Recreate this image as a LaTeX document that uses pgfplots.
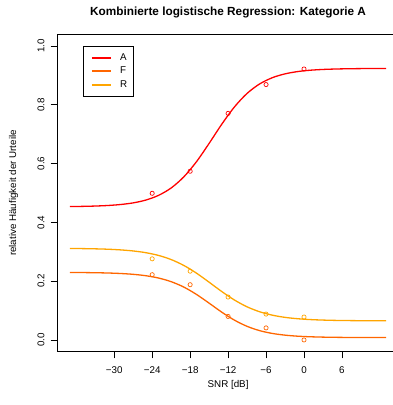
\documentclass[border=0pt]{standalone}
\usepackage{fontspec}
\setmainfont{Liberation Sans}
\usepackage{pgfplots}
\pgfplotsset{compat=1.18}
\definecolor{cA}{RGB}{255,0,0}
\definecolor{cF}{RGB}{255,102,0}
\definecolor{cR}{RGB}{255,165,0}
\newcommand{\basefont}{\fontsize{9.8}{11.8}\selectfont}
\begin{document}
\begin{tikzpicture}
\begin{axis}[
  at={(0,0)}, anchor=south west,
  scale only axis, width=341.6pt, height=317.4pt,
  xmin=-39, xmax=15, ymin=-0.04, ymax=1.04,
  xtick={-30,-24,-18,-12,-6,0,6},
  xticklabels={−30,−24,−18,−12,−6,0,6},
  ytick={0,0.2,0.4,0.6,0.8,1.0},
  yticklabels={0.0,0.2,0.4,0.6,0.8,1.0},
  xtick pos=left, ytick pos=left,
  tick align=outside, major tick length=6.7pt,
  tick style={black, line width=0.7pt},
  axis line style={black, line width=0.8pt},
  ticklabel style={font=\basefont},
  yticklabel style={rotate=90, anchor=south, inner sep=0pt, yshift=6pt},
  xticklabel style={inner sep=0pt, yshift=-8pt},
  xlabel={SNR [dB]}, ylabel={relative Häufigkeit der Urteile},
  label style={font=\basefont},
  x label style={at={(axis description cs:0.5,0)}, anchor=center, yshift=-33.6pt},
  y label style={at={(axis description cs:0,0.5)}, anchor=center, yshift=43.8pt},
  title={Kombinierte logistische Regression: Kategorie A},
  title style={font=\fontsize{11.8}{14}\selectfont\bfseries, at={(axis description cs:0.5,1)}, anchor=center, yshift=15.9pt},
  legend style={at={(axis description cs:0.0744,0.964)}, anchor=north west,
    draw=black, inner xsep=5.5pt, inner ysep=7.5pt,
    row sep=5.5pt, column sep=8.3pt, font=\basefont, nodes={inner sep=0pt}},
  legend cell align=left,
  legend image code/.code={\path (0pt,0pt); \draw[#1, line width=2pt] (2.8pt,0pt) -- (21.8pt,0pt);},
]
\addplot[color=cA, line width=1.3pt, smooth] coordinates {
(-37,0.4538)(-35,0.4545)(-33,0.4556)(-31,0.4575)(-29,0.4608)(-27,0.4664)(-25,0.4760)
(-23,0.4919)(-21,0.5171)(-19,0.5549)(-17,0.6064)(-15,0.6688)(-13,0.7341)(-11,0.7928)
(-9,0.8389)(-7,0.8713)(-5,0.8924)(-3,0.9054)(-1,0.9132)(1,0.9178)(3,0.9204)(5,0.9219)
(7,0.9228)(9,0.9233)(11,0.9236)(13,0.9238)};
\addlegendentry{A}
\addplot[color=cF, line width=1.3pt, smooth] coordinates {
(-37,0.2296)(-35,0.2293)(-33,0.2287)(-31,0.2278)(-29,0.2261)(-27,0.2233)(-25,0.2185)
(-23,0.2107)(-21,0.1983)(-19,0.1799)(-17,0.1549)(-15,0.1252)(-13,0.0945)(-11,0.0674)
(-9,0.0463)(-7,0.0316)(-5,0.0221)(-3,0.0163)(-1,0.0128)(1,0.0108)(3,0.0096)(5,0.0089)
(7,0.0085)(9,0.0083)(11,0.0082)(13,0.0081)};
\addlegendentry{F}
\addplot[color=cR, line width=1.3pt, smooth] coordinates {
(-37,0.3113)(-35,0.3108)(-33,0.3100)(-31,0.3087)(-29,0.3064)(-27,0.3028)(-25,0.2969)
(-23,0.2876)(-21,0.2735)(-19,0.2535)(-17,0.2273)(-15,0.1965)(-13,0.1647)(-11,0.1359)
(-9,0.1127)(-7,0.0958)(-5,0.0843)(-3,0.0768)(-1,0.0722)(1,0.0693)(3,0.0676)(5,0.0665)
(7,0.0659)(9,0.0655)(11,0.0653)(13,0.0652)};
\addlegendentry{R}
\addplot[color=cA, only marks, mark=o, mark size=2.1pt, line width=0.7pt, forget plot] coordinates {
(-24,0.499)(-18,0.574)(-12,0.771)(-6,0.869)(0,0.922)};
\addplot[color=cF, only marks, mark=o, mark size=2.1pt, line width=0.7pt, forget plot] coordinates {
(-24,0.222)(-18,0.188)(-12,0.080)(-6,0.041)(0,0.0)};
\addplot[color=cR, only marks, mark=o, mark size=2.1pt, line width=0.7pt, forget plot] coordinates {
(-24,0.276)(-18,0.234)(-12,0.146)(-6,0.088)(0,0.078)};
\end{axis}
\pgfresetboundingbox
\useasboundingbox (-57.3pt,-53.3pt) rectangle (335.7pt,351.7pt);
\end{tikzpicture}
\end{document}
